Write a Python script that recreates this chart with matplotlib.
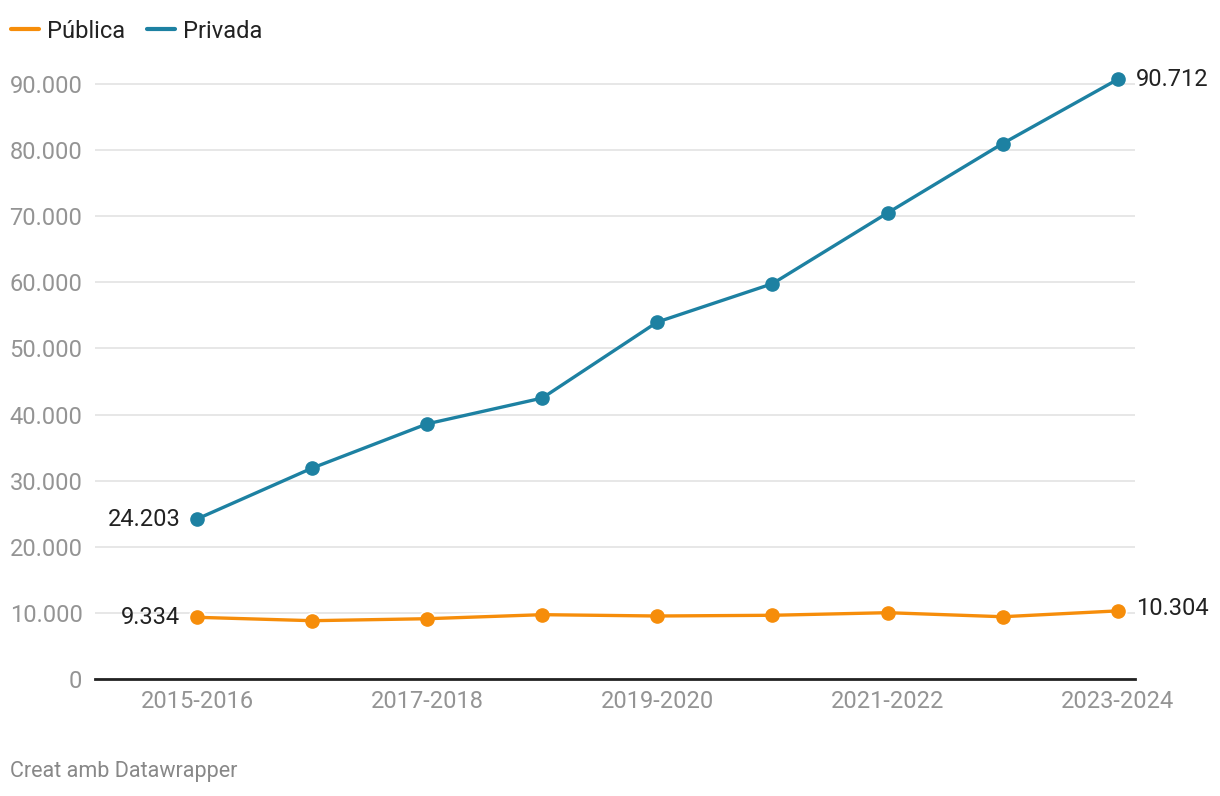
import numpy as np
import matplotlib.pyplot as plt
from matplotlib.ticker import FuncFormatter

plt.rcParams['font.family'] = ['Roboto', 'DejaVu Sans']

# values
cursos = ["2015-2016", "2016-2017", "2017-2018", "2018-2019", "2019-2020",
          "2020-2021", "2021-2022", "2022-2023", "2023-2024"]
publica = [9334, 8820, 9120, 9730, 9530, 9640, 10030, 9420, 10304]
privada = [24203, 31900, 38600, 42500, 54000, 59800, 70500, 81000, 90712]
yticks = [0, 10000, 20000, 30000, 40000, 50000, 60000, 70000, 80000, 90000]

c_pub = "#f68d0a"
c_priv = "#1d81a2"

fig = plt.figure(figsize=(12.2, 7.96), dpi=100)
ax = fig.add_axes([95 / 1220, 1 - 679 / 796, 1040 / 1220, 628 / 796])

x = np.arange(len(cursos))
ax.plot(x, privada, color=c_priv, lw=2.4, marker="o", ms=9.5, zorder=3,
        solid_capstyle="round", label="Privada")
# white halo under the orange line
ax.plot(x, publica, color="white", lw=6, marker="o", ms=12, zorder=3)
ax.plot(x, publica, color=c_pub, lw=2.4, marker="o", ms=9.5, zorder=4,
        solid_capstyle="round", label="Pública")

ax.set_xlim(-0.886, 8.15)
ax.set_ylim(0, 95000)
ax.set_yticks(yticks)
ax.yaxis.set_major_formatter(FuncFormatter(lambda v, p: f"{int(v):,}".replace(",", ".")))
ax.set_xticks(x[::2])
ax.set_xticklabels(cursos[::2])

ax.grid(axis="y", color="#e0e0e0", lw=1.1)
ax.set_axisbelow(True)
for s in ["top", "right", "left"]:
    ax.spines[s].set_visible(False)
ax.spines["bottom"].set_color("#222222")
ax.spines["bottom"].set_linewidth(2)
ax.tick_params(axis="both", length=0, labelsize=17, labelcolor="#949494")
ax.tick_params(axis="y", pad=9)
ax.tick_params(axis="x", pad=8)

# end labels
fs = 17
fmt = lambda v: f"{v:,}".replace(",", ".")
ax.annotate(fmt(privada[0]), (x[0], privada[0]), xytext=(-12, 0),
            textcoords="offset points", ha="right", va="center", fontsize=fs, color="#222222")
ax.annotate(fmt(publica[0]), (x[0], publica[0]), xytext=(-12, 0),
            textcoords="offset points", ha="right", va="center", fontsize=fs, color="#222222")
ax.annotate(fmt(privada[-1]), (x[-1], privada[-1]), xytext=(13, 0),
            textcoords="offset points", ha="left", va="center", fontsize=fs, color="#222222")
ax.annotate(fmt(publica[-1]), (x[-1], publica[-1]), xytext=(13, 2),
            textcoords="offset points", ha="left", va="center", fontsize=fs, color="#222222")

h_pub = plt.Line2D([], [], color=c_pub, lw=3, solid_capstyle="round")
h_priv = plt.Line2D([], [], color=c_priv, lw=3, solid_capstyle="round")
fig.legend([h_pub, h_priv], ["Pública", "Privada"], loc="center left",
           bbox_to_anchor=(0.002, 1 - 31 / 796), ncol=2, frameon=False, fontsize=17,
           handlelength=1.2, handletextpad=0.35, columnspacing=0.9,
           borderaxespad=0.0, borderpad=0.35, labelcolor="#222222")

fig.text(10 / 1220, 1 - 772 / 796, "Creat amb Datawrapper", fontsize=15.5,
         color="#888888", va="center", ha="left")

fig.savefig("out.png", dpi=100)
